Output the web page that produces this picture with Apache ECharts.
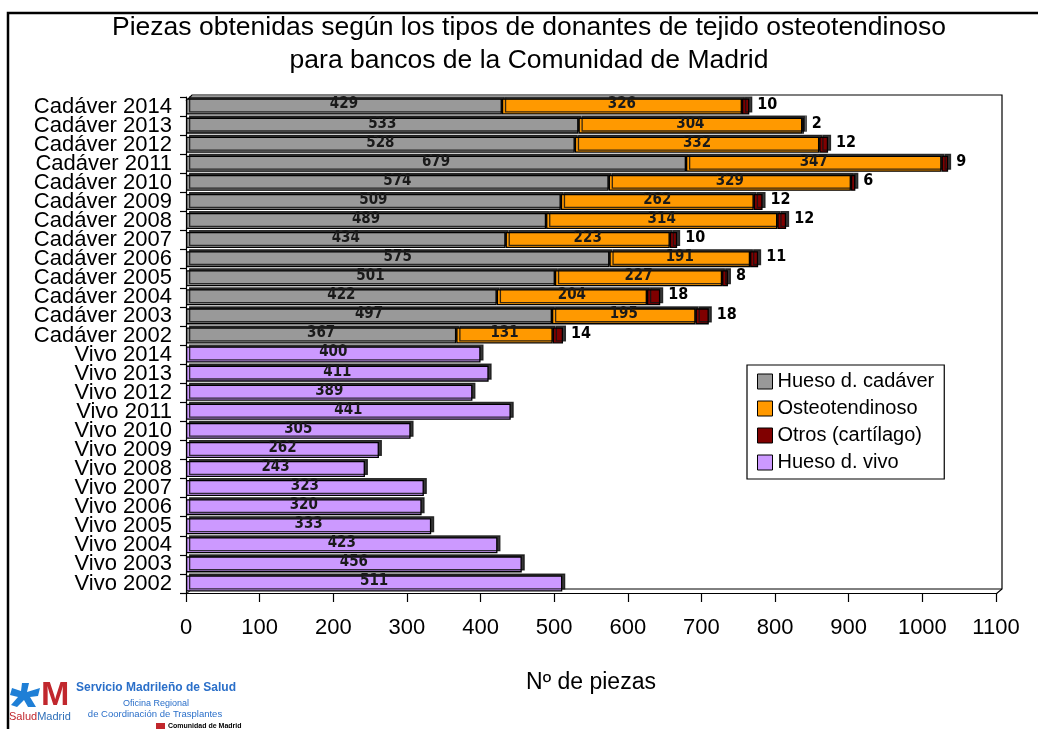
<!DOCTYPE html>
<html>
<head>
<meta charset="utf-8">
<script src="https://cdn.jsdelivr.net/npm/echarts@6/dist/echarts.min.js"></script>
<style>
html,body{margin:0;padding:0;background:#fff;}
#chart{width:1038px;height:729px;}
</style>
</head>
<body>
<div id="chart"></div>
<script>
// ---- data ----
const categories = [
  'Cadáver 2014','Cadáver 2013','Cadáver 2012','Cadáver 2011','Cadáver 2010','Cadáver 2009',
  'Cadáver 2008','Cadáver 2007','Cadáver 2006','Cadáver 2005','Cadáver 2004','Cadáver 2003','Cadáver 2002',
  'Vivo 2014','Vivo 2013','Vivo 2012','Vivo 2011','Vivo 2010','Vivo 2009',
  'Vivo 2008','Vivo 2007','Vivo 2006','Vivo 2005','Vivo 2004','Vivo 2003','Vivo 2002'
];
const huesoCadaver = [429, 533, 528, 679, 574, 509, 489, 434, 575, 501, 422, 497, 367];
const osteotendinoso = [326, 304, 332, 347, 329, 262, 314, 223, 191, 227, 204, 195, 131];
const otros = [10, 2, 12, 9, 6, 12, 12, 10, 11, 8, 18, 18, 14];
const huesoVivo = [400, 411, 389, 441, 305, 262, 243, 323, 320, 333, 423, 456, 511];
const xTicks = {min: 0, max: 1100, interval: 100};
const seriesNames = ['Hueso d. cadáver', 'Osteotendinoso', 'Otros (cartílago)', 'Hueso d. vivo'];
const titleText = 'Piezas obtenidas según los tipos de donantes de tejido osteotendinoso\npara bancos de la Comunidad de Madrid';
const xName = 'Nº de piezas';

// ---- build ----
const blanks = n => Array(n).fill('-');
const nC = huesoCadaver.length, nV = huesoVivo.length;
const cadData = arr => arr.concat(blanks(nV));
const vivoData = blanks(nC).concat(huesoVivo);

const baseFont = "'Liberation Sans',Arial,sans-serif";
const labelFont = "'Liberation Sans Narrow','DejaVu Sans Condensed','Liberation Sans',sans-serif";
const insideLabel = {
  show: true, position: 'inside', offset: [0, -2],
  color: '#1a1a1a', fontWeight: 'bold', fontSize: 15, fontFamily: labelFont
};
function barStyle(color) {
  return {
    color: color, borderColor: '#000', borderWidth: 1.3,
    shadowColor: 'rgba(20,20,20,0.85)', shadowOffsetX: 3, shadowOffsetY: -2, shadowBlur: 0
  };
}
function mk(name, data, color, label) {
  return {
    name: name, type: 'bar', stack: 'total', data: data,
    barCategoryGap: '16%',
    itemStyle: barStyle(color), label: label,
    emphasis: {disabled: true}, animation: false
  };
}

const chart = echarts.init(document.getElementById('chart'), null, {renderer: 'canvas'});
chart.setOption({
  animation: false,
  textStyle: {fontFamily: baseFont},
  grid: {left: 186, right: 42, top: 97, bottom: 136, containLabel: false},
  legend: {
    orient: 'vertical', left: 747, top: 365,
    data: seriesNames.map(n => ({name: n, icon: 'rect'})),
    backgroundColor: '#fff', borderColor: '#000', borderWidth: 1.2,
    padding: [6, 10, 6, 10],
    itemWidth: 15, itemHeight: 15, itemGap: 6, itemTextGap: 10,
    textStyle: {fontSize: 20, color: '#000', lineHeight: 21, fontFamily: baseFont},
    itemStyle: {borderColor: '#000', borderWidth: 1, shadowBlur: 0, shadowOffsetX: 0, shadowOffsetY: 0, shadowColor: 'transparent'}
  },
  xAxis: {
    type: 'value', min: xTicks.min, max: xTicks.max, interval: xTicks.interval,
    splitLine: {show: false},
    axisLine: {show: true, lineStyle: {color: '#000', width: 1.2}},
    axisTick: {show: true, length: 9, lineStyle: {color: '#000', width: 1.2}},
    axisLabel: {fontSize: 22, color: '#000', margin: 24, formatter: v => String(v)},
    name: xName, nameLocation: 'middle', nameGap: 78,
    nameTextStyle: {fontSize: 23, color: '#000'}
  },
  yAxis: {
    type: 'category', inverse: true, data: categories,
    axisLine: {show: true, lineStyle: {color: '#000', width: 1.2}},
    axisTick: {show: true, length: 6, lineStyle: {color: '#000', width: 1.2}},
    axisLabel: {fontSize: 22, color: '#000', margin: 14, interval: 0, hideOverlap: false}
  },
  graphic: [
    {type: 'polyline', z: 0, silent: true,
     shape: {points: [[1040, 13], [8, 13], [8, 740]]},
     style: {stroke: '#000', lineWidth: 2.5, fill: null}},
    {type: 'polyline', z: 0, silent: true,
     shape: {points: [[186, 101], [192, 95], [1002, 95], [1002, 589], [996, 594]]},
     style: {stroke: '#000', lineWidth: 1.2, fill: null}},
    {type: 'polyline', z: 0, silent: true,
     shape: {points: [[186, 594], [192, 589], [1002, 589]]},
     style: {stroke: '#000', lineWidth: 1, fill: null}},
    {type: 'text', z: 10, silent: true, x: 529, y: 11,
     style: {text: titleText, fontSize: 26.5, lineHeight: 33, fill: '#000', align: 'center', fontFamily: baseFont}},
    // logo
    {type: 'polygon', z: 10, silent: true,
     shape: {points: [[22,683],[29,683],[27,692],[40,688],[38,696],[30,697],[36,707],[28,707],[24,700],[17,707],[11,705],[18,697],[10,695],[12,688],[21,691]]},
     style: {fill: '#1f7fd6'}},
    {type: 'text', z: 10, silent: true, x: 41, y: 679,
     style: {text: 'M', fontSize: 34, fontWeight: 'bold', fill: '#c1272d', fontFamily: baseFont}},
    {type: 'text', z: 10, silent: true, x: 9, y: 711,
     style: {text: '{a|Salud}{b|Madrid}', rich: {a: {fontSize: 11, fill: '#c1272d', fontFamily: baseFont}, b: {fontSize: 11, fill: '#2e6fb8', fontFamily: baseFont}}}},
    {type: 'text', z: 10, silent: true, x: 156, y: 682,
     style: {text: 'Servicio Madrileño de Salud', fontSize: 12, fontWeight: 'bold', fill: '#2a6fc9', align: 'center', fontFamily: baseFont}},
    {type: 'text', z: 10, silent: true, x: 156, y: 699,
     style: {text: 'Oficina Regional', fontSize: 9, fill: '#2a6fc9', align: 'center', fontFamily: baseFont}},
    {type: 'text', z: 10, silent: true, x: 155, y: 709,
     style: {text: 'de Coordinación de Trasplantes', fontSize: 9.5, fill: '#2a6fc9', align: 'center', fontFamily: baseFont}},
    {type: 'rect', z: 10, silent: true, shape: {x: 156, y: 723, width: 9, height: 6}, style: {fill: '#c1272d'}},
    {type: 'text', z: 10, silent: true, x: 168, y: 723,
     style: {text: 'Comunidad de Madrid', fontSize: 7, fontWeight: 'bold', fill: '#000', fontFamily: baseFont}}
  ],
  series: [
    mk(seriesNames[0], cadData(huesoCadaver), '#999999', insideLabel),
    mk(seriesNames[1], cadData(osteotendinoso), '#ff9900', insideLabel),
    mk(seriesNames[2], cadData(otros), '#800000', {
      show: true, position: 'right', distance: 8, offset: [0, -2],
      color: '#000', fontWeight: 'bold', fontSize: 16, fontFamily: labelFont
    }),
    mk(seriesNames[3], vivoData, '#cc99ff', insideLabel)
  ]
});
</script>
</body>
</html>
